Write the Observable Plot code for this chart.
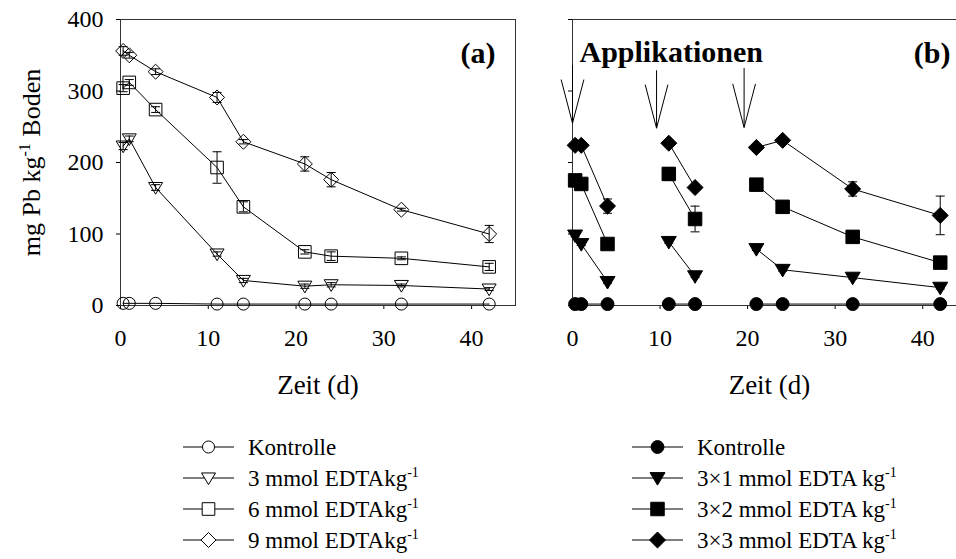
<!DOCTYPE html>
<html><head><meta charset="utf-8">
<script src="https://cdn.jsdelivr.net/npm/d3@7"></script>
<script src="https://cdn.jsdelivr.net/npm/@observablehq/plot@0.6"></script>
<style>
html,body{margin:0;padding:0;background:#fff;}
#wrap{position:relative;width:956px;height:559px;overflow:hidden;background:#fff;font-family:"Liberation Serif","Times New Roman",Tinos,"DejaVu Serif",serif;}
#wrap svg{position:absolute;}
#wrap svg text{font-family:"Liberation Serif","Times New Roman",Tinos,"DejaVu Serif",serif;}
</style></head><body><div id="wrap"></div>
<script>
// ---- data ----
const days = [0.3, 1, 4, 11, 14, 21, 24, 32, 42];
const periodB = [1, 1, 1, 2, 2, 3, 3, 3, 3];
const xTicks = [0, 10, 20, 30, 40];
const yTicks = [0, 100, 200, 300, 400];

const namesA = ["Kontrolle", "3 mmol EDTAkg", "6 mmol EDTAkg", "9 mmol EDTAkg"];
const supA = ["", "-1", "-1", "-1"];
const namesB = ["Kontrolle", "3×1 mmol EDTA kg", "3×2 mmol EDTA kg", "3×3 mmol EDTA kg"];
const supB = ["", "-1", "-1", "-1"];

const kontrolleA = [3, 3, 3, 2, 2, 2, 2, 2, 2];
const edta3A = [223, 233, 165, 72, 35, 27, 29, 28, 23];
const edta3AErr = [5, 4, 4, 3, 3, 3, 3, 2, 2];
const edta6A = [304, 312, 274, 193, 138, 75, 69, 66, 54];
const edta6AErr = [5, 4, 4, 22, 7, 3, 6, 2, 5];
const edta9A = [356, 350, 327, 291, 229, 198, 176, 134, 100];
const edta9AErr = [6, 4, 4, 7, 3, 10, 10, 2, 12];

const kontrolleB = [2, 2, 2, 2, 2, 2, 2, 2, 2];
const edta31B = [98, 86, 33, 89, 41, 79, 50, 39, 25];
const edta31BErr = [2, 2, 2, 2, 2, 2, 2, 2, 2];
const edta32B = [175, 170, 86, 184, 121, 169, 138, 96, 60];
const edta32BErr = [3, 3, 2, 9, 18, 2, 2, 2, 2];
const edta33B = [224, 224, 139, 227, 165, 221, 231, 163, 126];
const edta33BErr = [2, 2, 10, 2, 2, 2, 2, 10, 27];

const applicationDay = [0, 9.6, 19.6];
const arrowTip = [255, 248, 249];
const arrowTop = [336, 329, 332];

const yLabelMain = "mg Pb kg", yLabelSup = "-1", yLabelRest = " Boden";
const xLabel = "Zeit (d)";

// ---- symbols ----
const rOf = size => Math.sqrt(size / Math.PI);
const symCircle = {draw(c, size) { const r = rOf(size) * 0.86; c.moveTo(r, 0); c.arc(0, 0, r, 0, 2 * Math.PI); }};
const symTriDown = {draw(c, size) { const r = rOf(size); c.moveTo(-r, -0.72 * r); c.lineTo(r, -0.72 * r); c.lineTo(0, 0.95 * r); c.closePath(); }};
const symSquare = {draw(c, size) { const s = rOf(size) * 0.9; c.rect(-s, -s, 2 * s, 2 * s); }};
const symDiamond = {draw(c, size) { const r = rOf(size) * 1.07; c.moveTo(0, -r); c.lineTo(r, 0); c.lineTo(0, r); c.lineTo(-r, 0); c.closePath(); }};
const symCap = {draw(c, size) { const r = rOf(size); c.moveTo(-r, 0); c.lineTo(r, 0); }};
const symbols = [symCircle, symTriDown, symSquare, symDiamond];

function build(valuesList, errList) {
  return valuesList.flatMap((vals, i) => days.map((d, j) => ({
    series: i, day: d, value: vals[j], err: errList[i] ? errList[i][j] : 0, period: periodB[j]
  })));
}
const rowsA = build([kontrolleA, edta3A, edta6A, edta9A], [null, edta3AErr, edta6AErr, edta9AErr]);
const rowsB = build([kontrolleB, edta31B, edta32B, edta33B], [null, edta31BErr, edta32BErr, edta33BErr]);

const FONT = '"Liberation Serif", "Times New Roman", Tinos, "DejaVu Serif", serif';

function errorMarks(rows) {
  const e = rows.filter(d => d.err > 0);
  return [
    Plot.ruleX(e, {x: "day", y1: d => d.value - d.err, y2: d => d.value + d.err, stroke: "black", strokeWidth: 1}),
    Plot.dot(e, {x: "day", y: d => d.value + d.err, symbol: symCap, r: 4.5, stroke: "black", strokeWidth: 1}),
    Plot.dot(e, {x: "day", y: d => d.value - d.err, symbol: symCap, r: 4.5, stroke: "black", strokeWidth: 1})
  ];
}
function symbolMarks(rows, filled, r) {
  return symbols.map((s, i) => Plot.dot(rows.filter(d => d.series === i), {
    x: "day", y: "value", symbol: s, r, stroke: "black", strokeWidth: 1, fill: filled ? "black" : "none"
  }));
}

const common = {
  height: 400, marginTop: 19, marginBottom: 95,
  x: {domain: [0, 45], ticks: xTicks, tickSize: 4, tickPadding: 19, label: null},
  style: {fontFamily: FONT, fontSize: "24px", color: "black", background: "none", overflow: "visible"}
};

const plotA = Plot.plot({
  ...common,
  width: 530, marginLeft: 120, marginRight: 15,
  y: {domain: [0, 400], ticks: yTicks, tickSize: 4, tickPadding: 13, label: null},
  marks: [
    Plot.frame({stroke: "#333"}),
    Plot.line(rowsA, {x: "day", y: "value", z: "series", stroke: "black", strokeWidth: 1}),
    ...errorMarks(rowsA),
    ...symbolMarks(rowsA, false, 7),
    Plot.text([xLabel], {frameAnchor: "bottom", dy: 80, lineAnchor: "middle", fontSize: 27}),
    Plot.text([yLabelMain + yLabelSup + yLabelRest], {frameAnchor: "left", dx: -89, rotate: -90, textAnchor: "middle", lineAnchor: "middle", fontSize: 26}),
    Plot.text(["(a)"], {frameAnchor: "top-right", dx: -20, dy: 43, textAnchor: "end", lineAnchor: "bottom", fontWeight: "bold", fontSize: 30})
  ]
});

const arrows = applicationDay.map((x, i) => ({x, tip: arrowTip[i], top: arrowTop[i]}));
const headLen = 61, headHalf = 1.3;

const plotB = Plot.plot({
  ...common,
  width: 460, marginLeft: 52, marginRight: 14,
  y: {domain: [0, 400], ticks: yTicks, tickSize: 4, tickFormat: () => "", label: null},
  marks: [
    Plot.frame({stroke: "#333"}),
    Plot.line(rowsB, {x: "day", y: "value", z: d => d.series + "-" + d.period, stroke: "black", strokeWidth: 1}),
    ...errorMarks(rowsB),
    ...symbolMarks(rowsB, true, 7.5),
    Plot.link(arrows, {x1: "x", y1: "top", x2: "x", y2: "tip", stroke: "black", strokeWidth: 1}),
    Plot.link(arrows, {x1: d => d.x - headHalf, y1: d => d.tip + headLen, x2: "x", y2: "tip", stroke: "black", strokeWidth: 1}),
    Plot.link(arrows, {x1: d => d.x + headHalf, y1: d => d.tip + headLen, x2: "x", y2: "tip", stroke: "black", strokeWidth: 1}),
    Plot.text([xLabel], {frameAnchor: "bottom", dy: 80, lineAnchor: "middle", fontSize: 27}),
    Plot.text(["Applikationen"], {frameAnchor: "top-left", dx: 7, dy: 42, textAnchor: "start", lineAnchor: "bottom", fontWeight: "bold", fontSize: 30}),
    Plot.text(["(b)"], {frameAnchor: "top-right", dx: -16, dy: 43, textAnchor: "end", lineAnchor: "bottom", fontWeight: "bold", fontSize: 30})
  ]
});

const wrap = document.getElementById("wrap");
plotA.style.left = "0px"; plotA.style.top = "0px";
plotB.style.left = "520px"; plotB.style.top = "0px";
wrap.appendChild(plotA);
wrap.appendChild(plotB);

// superscript in y label
d3.select(plotA).selectAll("text").filter(function() { return this.textContent === yLabelMain + yLabelSup + yLabelRest; })
  .each(function() {
    const t = d3.select(this);
    t.text(null).attr("text-anchor", "middle");
    t.append("tspan").text(yLabelMain);
    t.append("tspan").attr("dy", -10).attr("font-size", "16px").text(yLabelSup);
    t.append("tspan").attr("dy", 10).text(yLabelRest);
  });

// ---- legends ----
const leg = d3.select(wrap).append("svg").attr("width", 956).attr("height", 559)
  .style("left", "0px").style("top", "0px")
  .style("font-family", FONT).attr("font-size", 23);
const rowY = [447, 478, 509, 540];
function legend(x0, names, sups, filled, r) {
  names.forEach((n, i) => {
    const y = rowY[i];
    leg.append("line").attr("x1", x0).attr("x2", x0 + 51).attr("y1", y).attr("y2", y).attr("stroke", "black");
    leg.append("path").attr("d", d3.symbol(symbols[i], r * r * Math.PI)())
      .attr("transform", `translate(${x0 + 25.5},${y})`)
      .attr("fill", filled ? "black" : "white").attr("stroke", "black");
    const t = leg.append("text").attr("x", x0 + 65).attr("y", y + 8).attr("fill", "black");
    t.append("tspan").text(n);
    if (sups[i]) t.append("tspan").attr("dy", -9).attr("font-size", 14).text(sups[i]);
  });
}
legend(183, namesA, supA, false, 7);
legend(632, namesB, supB, true, 7.5);
</script></body></html>
